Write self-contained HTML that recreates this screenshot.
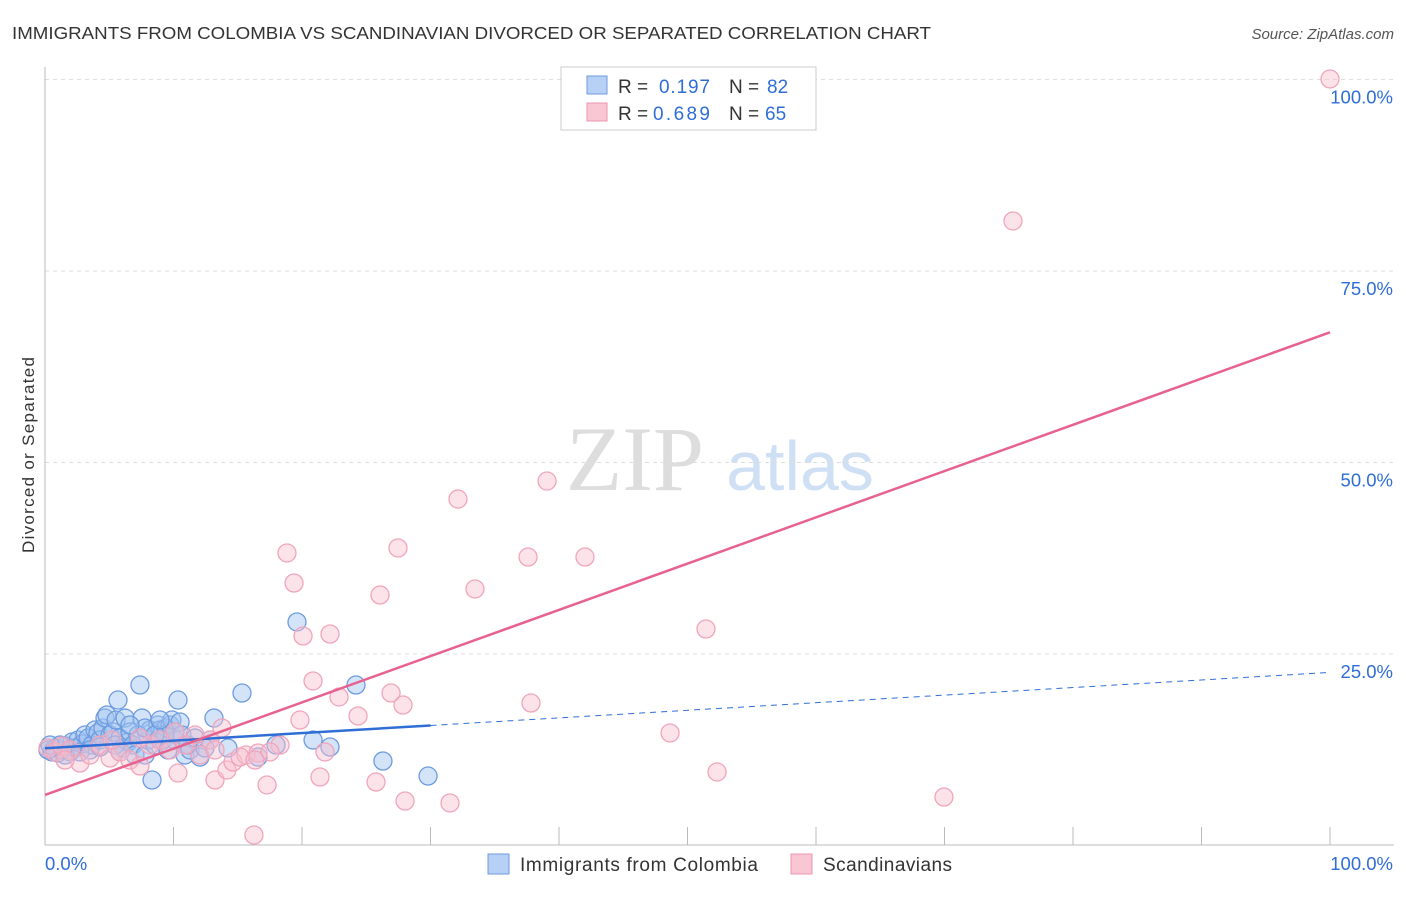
<!DOCTYPE html>
<html><head><meta charset="utf-8"><style>
body{margin:0;background:#fff;font-family:"Liberation Sans",sans-serif;}
</style></head><body>
<svg width="1406" height="892" xmlns="http://www.w3.org/2000/svg">
<text x="12" y="39" font-size="17.5" fill="#333" textLength="919" lengthAdjust="spacingAndGlyphs">IMMIGRANTS FROM COLOMBIA VS SCANDINAVIAN DIVORCED OR SEPARATED CORRELATION CHART</text>
<text x="1394" y="39" font-size="15" fill="#555" text-anchor="end" font-style="italic">Source: ZipAtlas.com</text>
<text x="34" y="455" font-size="17" fill="#333" text-anchor="middle" transform="rotate(-90 34 455)" textLength="196">Divorced or Separated</text>
<g><text x="635" y="490" font-size="92" fill="#ddd" text-anchor="middle" font-family="Liberation Serif,serif">ZIP</text><text x="800" y="490" font-size="70" fill="#cfe0f5" text-anchor="middle">atlas</text></g>
<g id="grid"></g><g id="axes"></g><g id="pts"></g><g id="lines"></g>
<g>
<rect x="561" y="67" width="255" height="63" fill="#fff" stroke="#ccc"/>
<rect x="587" y="76" width="20" height="18" fill="#b6d1f5" stroke="#6d9be0"/>
<rect x="587" y="103" width="20" height="18" fill="#f9c6d4" stroke="#ec95ae"/>
<text x="618" y="93" font-size="19" fill="#333">R =</text><text x="659" y="93" font-size="19" fill="#2f6ed6" textLength="51">0.197</text>
<text x="729" y="93" font-size="19" fill="#333">N =</text><text x="767" y="93" font-size="19" fill="#2f6ed6">82</text>
<text x="618" y="120" font-size="19" fill="#333">R =</text><text x="653" y="120" font-size="19" fill="#2f6ed6" textLength="57">0.689</text>
<text x="729" y="120" font-size="19" fill="#333">N =</text><text x="765" y="120" font-size="19" fill="#2f6ed6">65</text>
</g>
<g>
<rect x="488" y="854" width="21" height="20" fill="#b6d1f5" stroke="#6d9be0"/>
<text x="520" y="871" font-size="19" fill="#333" textLength="238">Immigrants from Colombia</text>
<rect x="791" y="854" width="21" height="20" fill="#f9c6d4" stroke="#ec95ae"/>
<text x="823" y="871" font-size="19" fill="#333" textLength="129">Scandinavians</text>
</g>
</svg>
<script>
const xTickLabels=["0.0%","100.0%"];
const yTicks=[25,50,75,100];
const bluePx=[[48,750],[52,752],[55,748],[58,753],[62,750],[66,746],[70,752],[72,742],[75,748],[78,740],[82,744],[85,735],[88,738],[92,745],[95,730],[98,733],[100,740],[103,728],[105,718],[107,715],[110,735],[113,732],[116,720],[118,700],[120,738],[123,748],[125,718],[128,742],[130,732],[133,745],[135,755],[140,685],[142,718],[145,755],[148,740],[150,730],[152,780],[155,745],[158,725],[160,730],[163,740],[166,728],[170,725],[172,720],[175,740],[178,700],[180,722],[182,735],[185,755],[188,745],[190,750],[200,757],[210,740],[214,718],[228,748],[242,693],[258,757],[276,745],[297,622],[313,740],[330,747],[356,685],[383,761],[428,776],[60,745],[65,755],[80,752],[90,750],[100,747],[115,745],[138,735],[145,728],[165,735],[175,732],[195,738],[205,748],[120,752],[130,725],[155,735],[160,720],[168,750],[50,745]];
const pinkPx=[[1330,79],[1013,221],[547,481],[458,499],[287,553],[398,548],[528,557],[585,557],[294,583],[475,589],[380,595],[303,636],[330,634],[706,629],[313,681],[391,693],[339,697],[403,705],[531,703],[300,720],[358,716],[670,733],[222,728],[210,740],[195,735],[175,732],[178,773],[215,780],[227,770],[233,762],[246,755],[258,753],[267,785],[280,745],[320,777],[376,782],[405,801],[450,803],[717,772],[944,797],[254,835],[48,748],[55,752],[62,746],[70,750],[80,763],[90,755],[100,745],[110,758],[120,752],[130,760],[140,766],[150,745],[160,740],[170,750],[185,745],[200,755],[140,738],[240,757],[270,752],[255,760],[325,752],[215,750],[112,740],[65,760]];
const blueX=bluePx.map(p=>+((p[0]-45)/12.85).toFixed(2)), blueY=bluePx.map(p=>+((845.5-p[1])/7.66).toFixed(2));
const pinkX=pinkPx.map(p=>+((p[0]-45)/12.85).toFixed(2)), pinkY=pinkPx.map(p=>+((845.5-p[1])/7.66).toFixed(2));
const blueTrend=[12.7,22.6], pinkTrend=[6.6,67.0];
const X=v=>45+v*12.85, Y=v=>845.5-v*7.66;
const NS="http://www.w3.org/2000/svg";
function mk(t,a,p){const e=document.createElementNS(NS,t);for(const k in a)e.setAttribute(k,a[k]);p.appendChild(e);return e;}
const grid=document.getElementById('grid'),axes=document.getElementById('axes'),pts=document.getElementById('pts'),lines=document.getElementById('lines');
yTicks.forEach(t=>{const l=mk('line',{x1:45,x2:1394,y1:Y(t),y2:Y(t),stroke:'#ddd','stroke-dasharray':'4,4'},grid);


const tx=mk('text',{x:1393,y:Y(t)+24,'font-size':18.5,fill:'#2f6ed6','text-anchor':'end'},axes);tx.textContent=t.toFixed(1)+'%';

});
const ax=mk('line',{x1:45,x2:1394,y1:845,y2:845,stroke:'#bbb'},axes);


const ay=mk('line',{x1:45,x2:45,y1:67,y2:845,stroke:'#bbb'},axes);


for(let i=1;i<=10;i++){const tk=mk('line',{x1:X(i*10),x2:X(i*10),y1:827,y2:845,stroke:'#bbb'},axes);

}
xTickLabels.forEach((s,i)=>{const tx=mk('text',{x:i?1393:45,y:870,'font-size':18.5,fill:'#2f6ed6','text-anchor':i?'end':'start'},axes);tx.textContent=s;

});
blueX.forEach((v,i)=>{const c=mk('circle',{cx:X(v),cy:Y(blueY[i]),r:9,fill:'rgba(160,196,240,0.45)',stroke:'#6d9be0','stroke-width':1.3},pts);

});
pinkX.forEach((v,i)=>{const c=mk('circle',{cx:X(v),cy:Y(pinkY[i]),r:9,fill:'rgba(248,190,206,0.45)',stroke:'#f0a5bb','stroke-width':1.3},pts);

});
const bx=30, bAt=v=>blueTrend[0]+(blueTrend[1]-blueTrend[0])*v/100;
const b1=mk('line',{x1:X(0),y1:Y(bAt(0)),x2:X(bx),y2:Y(bAt(bx)),stroke:'#2f6ed6','stroke-width':2.5},lines);


const b2=mk('line',{x1:X(bx),y1:Y(bAt(bx)),x2:X(100),y2:Y(bAt(100)),stroke:'#2f6ed6','stroke-width':1,'stroke-dasharray':'6,5'},lines);


const p1=mk('line',{x1:X(0),y1:Y(pinkTrend[0]),x2:X(100),y2:Y(pinkTrend[1]),stroke:'#e8628f','stroke-width':2.5},lines);


</script>
</body></html>
